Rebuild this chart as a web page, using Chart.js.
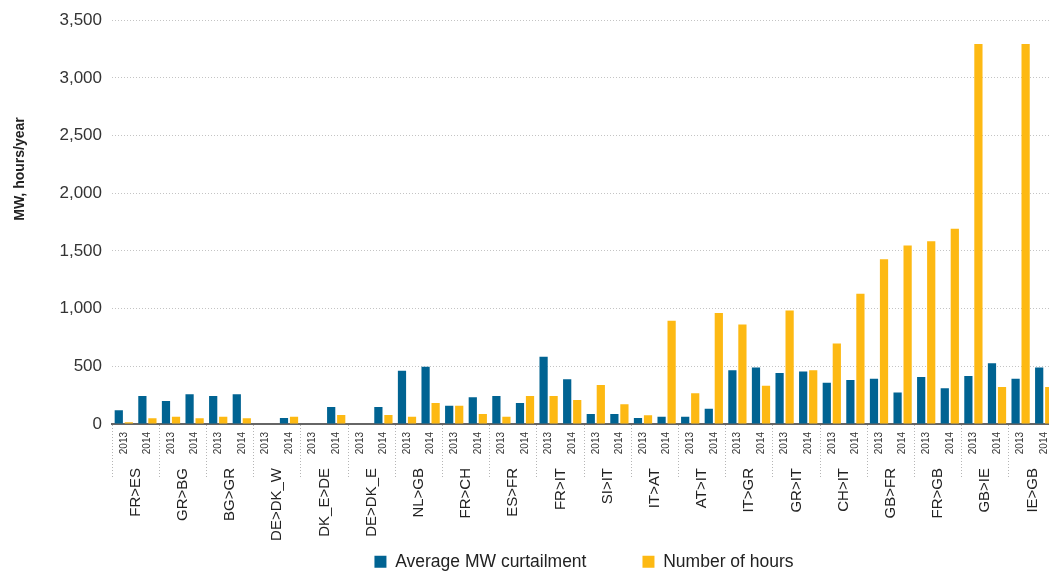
<!DOCTYPE html>
<html>
<head>
<meta charset="utf-8">
<script src="https://cdn.jsdelivr.net/npm/chart.js@4.4.1/dist/chart.umd.min.js"></script>
<style>
  html, body { margin: 0; padding: 0; overflow: hidden; background: #fff; }
  #wrap { width: 1058px; height: 575px; }
</style>
</head>
<body>
<div id="wrap"><canvas id="curtailmentChart"></canvas></div>
<script>
// borders, each shown for 2013 and 2014
const borders = ['FR>ES', 'GR>BG', 'BG>GR', 'DE>DK_W', 'DK_E>DE', 'DE>DK_E', 'NL>GB', 'FR>CH', 'ES>FR', 'FR>IT',
  'SI>IT', 'IT>AT', 'AT>IT', 'IT>GR', 'GR>IT', 'CH>IT', 'GB>FR', 'FR>GB', 'GB>IE', 'IE>GB'];
const years = ['2013', '2014'];
const yearLabels = borders.flatMap(() => years);

const avgMW = [120, 243, 200, 258, 243, 258, 0, 52, 0, 148,
  0, 148, 462, 497, 159, 232, 243, 182, 582, 388,
  87, 87, 52, 63, 63, 133, 465, 489, 443, 454,
  358, 382, 393, 274, 408, 309, 417, 526, 393, 489];
const hours = [15, 50, 63, 50, 63, 50, 0, 63, 0, 78,
  0, 78, 63, 182, 159, 87, 63, 243, 243, 208,
  339, 171, 75, 894, 266, 963, 862, 332, 983, 465,
  697, 1128, 1429, 1548, 1585, 1693, 3293, 321, 3293, 321];

const BLUE = '#006392';
const YELLOW = '#fdb913';
const SANS = "'Liberation Sans', Arial, sans-serif";

Chart.defaults.font.family = SANS;
Chart.defaults.color = '#333';

// y axis title sits above the middle of the axis, so draw it by hand
const yTitle = {
  id: 'yTitle',
  afterDraw(chart) {
    const ctx = chart.ctx;
    ctx.save();
    ctx.translate(20, 169);
    ctx.rotate(-Math.PI / 2);
    ctx.font = 'bold 14px ' + SANS;
    ctx.fillStyle = '#222';
    ctx.textAlign = 'center';
    ctx.textBaseline = 'middle';
    ctx.fillText('MW, hours/year', 0, 0);
    ctx.restore();
  }
};

const noSidePadding = (scale) => { scale.paddingLeft = 0; scale.paddingRight = 0; };

const config = {
  type: 'bar',
  data: {
    labels: yearLabels,
    datasets: [{
      label: 'Average MW curtailment',
      data: avgMW,
      backgroundColor: BLUE,
      borderWidth: 0
    }, {
      label: 'Number of hours',
      data: hours,
      backgroundColor: YELLOW,
      borderWidth: 0
    }]
  },
  options: {
    responsive: true,
    maintainAspectRatio: false,
    animation: false,
    categoryPercentage: 0.85,
    barPercentage: 0.82,
    layout: { padding: { top: 20, right: 2, left: 0, bottom: 0 } },
    plugins: {
      tooltip: { enabled: false },
      legend: {
        position: 'bottom',
        fullSize: false,
        maxHeight: 78,
        labels: {
          boxWidth: 12,
          boxHeight: 12,
          padding: 56,
          color: '#222',
          font: { size: 17.5, family: SANS }
        }
      }
    },
    scales: {
      x: {
        offset: true,
        grid: {
          offset: true,
          drawOnChartArea: false,
          drawTicks: true,
          tickLength: 54,
          tickWidth: 1,
          tickBorderDash: [1, 2],
          color: (c) => (c.index !== undefined && c.index % 2 === 0) ? '#b5b5b5' : 'rgba(0,0,0,0)'
        },
        border: { display: true, color: '#666', width: 2 },
        ticks: {
          autoSkip: false,
          minRotation: 90,
          maxRotation: 90,
          padding: -46,
          color: '#333',
          font: { size: 10, family: SANS }
        },
        afterFit: (scale) => { noSidePadding(scale); scale.height = 73; }
      },
      y: {
        min: 0,
        max: 3500,
        ticks: {
          stepSize: 500,
          padding: 10,
          color: '#333',
          font: { size: 17, family: SANS }
        },
        grid: { drawTicks: false, color: '#c4c4c4', lineWidth: 1 },
        border: { display: false, dash: [1, 2] },
        afterFit: (scale) => { scale.width = 112; }
      },
      // border names, hung from the zero line so they take no layout room
      x2: {
        type: 'category',
        labels: borders,
        position: { y: 0 },
        offset: true,
        grid: { display: false },
        border: { display: false },
        ticks: {
          autoSkip: false,
          minRotation: 90,
          maxRotation: 90,
          padding: 36,
          color: '#222',
          font: { size: 15, family: SANS }
        },
        afterFit: noSidePadding
      }
    }
  },
  plugins: [yTitle]
};

const chart = new Chart(document.getElementById('curtailmentChart'), config);
</script>
</body>
</html>
